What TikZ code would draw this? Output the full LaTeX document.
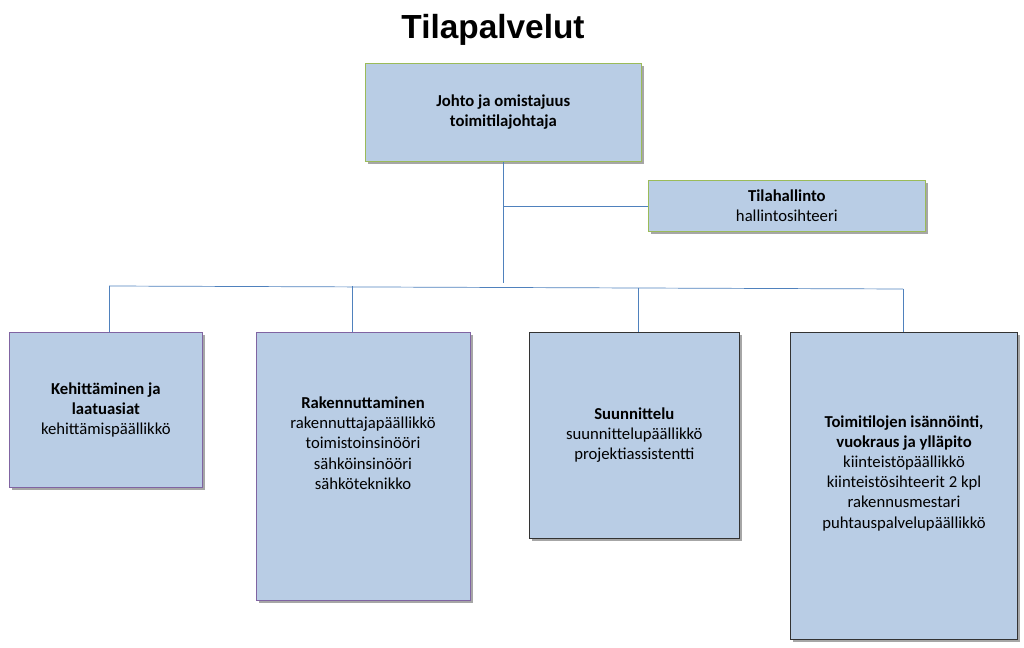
\documentclass[tikz,border=0pt]{standalone}
\usepackage{fontspec}
\setmainfont{Carlito}
\newfontfamily\otsikkofont{Liberation Sans}
\begin{document}
\begin{tikzpicture}[x=0.02cm,y=-0.02cm]
% Styles
\tikzstyle{laatikko}=[fill={rgb,255:red,185;green,205;blue,229},draw,drop shadow/.style={},inner sep=0pt,anchor=north west]
\tikzstyle{viiva}=[draw={rgb,255:red,79;green,129;blue,189},thin]
\tikzstyle{teksti}=[align=center,font=\fontsize{9.5}{11.5}\selectfont]
\definecolor{vihrea}{RGB}{155,187,89}
\definecolor{violetti}{RGB}{128,100,162}
\useasboundingbox (0,0) rectangle (1024,648);
% Title
\node[font=\otsikkofont\bfseries\fontsize{19}{22}\selectfont] (otsikko) at (493,30) {Tilapalvelut};
% Boxes (shadow first)
\foreach \xa/\ya/\xb/\yb in {365/63/641/161,648/180/925/231,9/332/202/487,256/332/470/600,529/332/739/538,790/332/1017/639}
  \fill[black!35] (\xa+3,\ya+3) rectangle (\xb+3,\yb+3);
\node[laatikko,draw=vihrea,minimum width=276*0.02cm,minimum height=98*0.02cm] (johto) at (365,63) {};
\node[laatikko,draw=vihrea,minimum width=277*0.02cm,minimum height=51*0.02cm] (hallinto) at (648,180) {};
\node[laatikko,draw=violetti,minimum width=193*0.02cm,minimum height=155*0.02cm] (kehitys) at (9,332) {};
\node[laatikko,draw=violetti,minimum width=214*0.02cm,minimum height=268*0.02cm] (rakennus) at (256,332) {};
\node[laatikko,draw=black!80,minimum width=210*0.02cm,minimum height=206*0.02cm] (suunnittelu) at (529,332) {};
\node[laatikko,draw=black!80,minimum width=227*0.02cm,minimum height=307*0.02cm] (toimitilat) at (790,332) {};
% Texts
\node[teksti] (tjohto) at (johto.center) {\textbf{Johto ja omistajuus}\\\textbf{toimitilajohtaja}};
\node[teksti] (thallinto) at (hallinto.center) {\textbf{Tilahallinto}\\hallintosihteeri};
\node[teksti] (tkehitys) at (kehitys.center) {\textbf{Kehittäminen ja}\\\textbf{laatuasiat}\\kehittämispäällikkö};
\node[teksti] (trakennus) at (363,443) {\textbf{Rakennuttaminen}\\rakennuttajapäällikkö\\toimistoinsinööri\\sähköinsinööri\\sähköteknikko};
\node[teksti] (tsuunnittelu) at (suunnittelu.center) {\textbf{Suunnittelu}\\suunnittelupäällikkö\\projektiassistentti};
\node[teksti] (ttoimitilat) at (904,473) {\textbf{Toimitilojen isännöinti,}\\\textbf{vuokraus ja ylläpito}\\kiinteistöpäällikkö\\kiinteistösihteerit 2 kpl\\rakennusmestari\\puhtauspalvelupäällikkö};
% Connectors
\coordinate (haara) at (503,283);
\coordinate (sivu) at (503,206);
\coordinate (vasen) at (109,286);
\coordinate (oikea) at (903,289);
\draw[viiva] (johto.south -| haara) -- (haara);
\draw[viiva] (sivu) -- (hallinto.west |- sivu);
\draw[viiva] (vasen) -- (oikea);
\draw[viiva] (vasen) -- (kehitys.north -| vasen);
\draw[viiva] (352,286.4) -- (rakennus.north -| 352,0);
\draw[viiva] (638,287.9) -- (suunnittelu.north -| 638,0);
\draw[viiva] (oikea) -- (toimitilat.north -| oikea);
\end{tikzpicture}
\end{document}
